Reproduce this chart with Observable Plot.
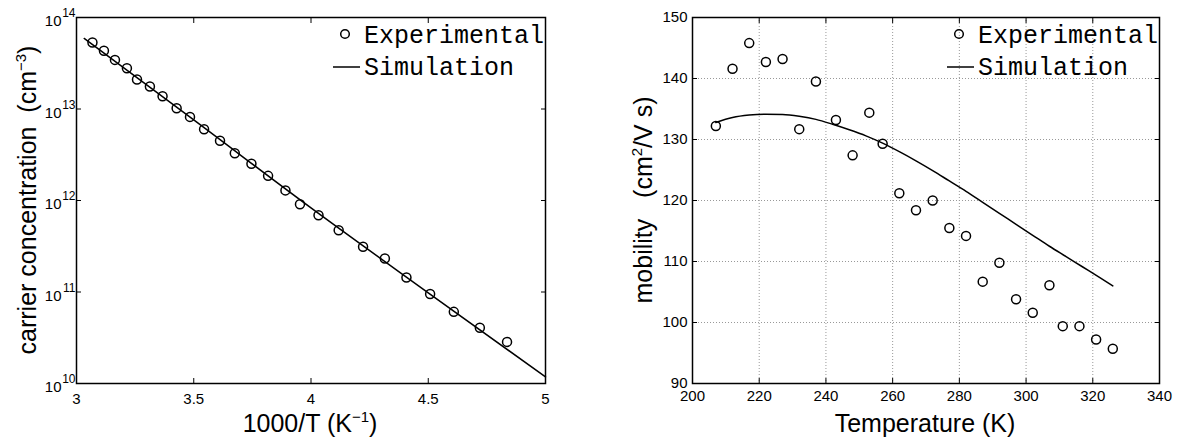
<!DOCTYPE html>
<html>
<head>
<meta charset="utf-8">
<script src="https://cdn.jsdelivr.net/npm/d3@7"></script>
<script src="https://cdn.jsdelivr.net/npm/@observablehq/plot@0.6"></script>
<style>
  html, body { margin: 0; padding: 0; background: #fff; }
  #fig { position: relative; width: 1180px; height: 439px; overflow: hidden; background: #fff; }
  #fig > div, #fig > svg { position: absolute; top: 0; }
</style>
</head>
<body>
<div id="fig"></div>
<script>
// ---------- Left panel data: carrier concentration vs 1000/T ----------
const invT = [3.068, 3.117, 3.164, 3.215, 3.258, 3.313, 3.367, 3.427, 3.484, 3.544,
              3.612, 3.675, 3.746, 3.817, 3.891, 3.953, 4.032, 4.118, 4.222, 4.315,
              4.407, 4.508, 4.609, 4.720, 4.836];
const carrierExp = [5.33e13, 4.33e13, 3.44e13, 2.79e13, 2.10e13, 1.76e13, 1.38e13, 1.02e13, 8.2e12, 6.0e12,
                    4.49e12, 3.29e12, 2.52e12, 1.86e12, 1.29e12, 9.1e11, 6.9e11, 4.74e11, 3.12e11, 2.32e11,
                    1.44e11, 9.5e10, 6.07e10, 4.06e10, 2.85e10];
const invTSim = [3.033, 3.5, 4.0, 4.5, 5.0];
const carrierSim = [5.9e13, 7.6e12, 8.3e11, 9.8e10, 1.18e10];

// ---------- Right panel data: mobility vs temperature ----------
const temp = [207, 212, 217, 222, 227, 232, 237, 243, 248, 253, 257, 262, 267, 272, 277,
              282, 287, 292, 297, 302, 307, 311, 316, 321, 326];
const mobilityExp = [132.2, 141.6, 145.8, 142.7, 143.2, 131.7, 139.5, 133.2, 127.4, 134.4, 129.3,
                     121.2, 118.4, 120.0, 115.5, 114.2, 106.7, 109.8, 103.8, 101.6, 106.1,
                     99.4, 99.4, 97.2, 95.7];
const tempSim = [207, 212, 217, 222, 227, 232, 237, 242, 247, 252, 257, 262, 267, 272, 277,
                 282, 287, 292, 297, 302, 307, 312, 317, 322, 326];
const mobilitySim = [132.8, 133.6, 134.0, 134.15, 134.1, 133.8, 133.3, 132.5, 131.6, 130.6, 129.4,
                     128.0, 126.5, 124.9, 123.2, 121.5, 119.7, 117.9, 116.1, 114.3, 112.5,
                     110.8, 109.1, 107.4, 106.0];

// ---------- Tick labels ----------
const leftXTicks = [3, 3.5, 4, 4.5, 5];
const leftYTicks = [1e10, 1e11, 1e12, 1e13, 1e14];
const rightXTicks = [200, 220, 240, 260, 280, 300, 320, 340];
const rightYTicks = [90, 100, 110, 120, 130, 140, 150];
const legendLabels = ["Experimental", "Simulation"];

const SANS = "'Liberation Sans', Arial, Helvetica, sans-serif";
const MONO = "'Liberation Mono', 'Courier New', Courier, monospace";

function legendMark(labels) {
  return (index, scales, values, dims) => {
    const g = d3.create("svg:g");
    const right = dims.width - dims.marginRight;
    const top = dims.marginTop;
    g.append("circle").attr("cx", right - 200).attr("cy", top + 17).attr("r", 4.3)
      .attr("fill", "none").attr("stroke", "black").attr("stroke-width", 1.5);
    g.append("line").attr("x1", right - 212).attr("x2", right - 185)
      .attr("y1", top + 50).attr("y2", top + 50).attr("stroke", "black").attr("stroke-width", 1.5);
    g.append("text").attr("x", right - 181).attr("y", top + 26).text(labels[0])
      .attr("text-anchor", "start")
      .attr("font-family", MONO).attr("font-size", 25).attr("fill", "black");
    g.append("text").attr("x", right - 181).attr("y", top + 58).text(labels[1])
      .attr("text-anchor", "start")
      .attr("font-family", MONO).attr("font-size", 25).attr("fill", "black");
    return g.node();
  };
}

function boxTicks(xt, yt) {
  return [
    Plot.axisX({ticks: xt, anchor: "bottom", tickSize: -5, tickFormat: () => "", strokeWidth: 1}),
    Plot.axisX({ticks: xt, anchor: "top", tickSize: -5, tickFormat: () => "", strokeWidth: 1}),
    Plot.axisY({ticks: yt, anchor: "left", tickSize: -5, tickFormat: () => "", strokeWidth: 1}),
    Plot.axisY({ticks: yt, anchor: "right", tickSize: -5, tickFormat: () => "", strokeWidth: 1})
  ];
}

// Add a text label (with superscript) to an svg
function addLabel(svg, parts, x, y, rotate) {
  const t = d3.select(svg).append("text")
    .attr("font-family", SANS).attr("font-size", 25).attr("fill", "black")
    .attr("text-anchor", "middle")
    .attr("transform", `translate(${x},${y})` + (rotate ? " rotate(-90)" : ""));
  for (const p of parts) {
    const ts = t.append("tspan").text(p.t).attr("xml:space", "preserve").style("white-space", "pre");
    if (p.sup) ts.attr("font-size", 15).attr("dy", -10);
    else if (p.after) ts.attr("dy", 10);
  }
}

// ---------- Left panel ----------
const left = Plot.plot({
  width: 590, height: 439,
  marginLeft: 76, marginRight: 45, marginTop: 17, marginBottom: 56,
  style: {fontFamily: SANS, background: "white", color: "black", overflow: "visible"},
  x: {domain: [3, 5], label: null},
  y: {type: "log", domain: [1e10, 1e14], label: null},
  marks: [
    Plot.line(invTSim, {x: (d, i) => invTSim[i], y: (d, i) => carrierSim[i], stroke: "black", strokeWidth: 1.5, curve: "monotone-x"}),
    Plot.dot(invT, {x: (d, i) => invT[i], y: (d, i) => carrierExp[i], r: 4.5, stroke: "black", strokeWidth: 1.5, fill: "none"}),
    ...boxTicks(leftXTicks, leftYTicks),
    Plot.axisX({ticks: leftXTicks, tickSize: 0, tickPadding: 10, fontSize: 15, tickFormat: d => String(d)}),
    Plot.axisY({ticks: leftYTicks, tickSize: 0, tickPadding: 15, fontSize: 15, dy: 4, tickFormat: () => "10"}),
    Plot.axisY({ticks: leftYTicks, tickSize: 0, tickPadding: 1, fontSize: 12, dy: -4, tickFormat: d => String(Math.round(Math.log10(d)))}),
    Plot.frame({stroke: "black", strokeWidth: 1.5}),
    legendMark(legendLabels)
  ]
});
left.style.left = "0px";
addLabel(left, [{t: "1000/T (K"}, {t: "−1", sup: true}, {t: ")", after: true}], 310, 432, false);
addLabel(left, [{t: "carrier concentration  (cm"}, {t: "−3", sup: true}, {t: ")", after: true}], 36, 200, true);

// ---------- Right panel ----------
const right = Plot.plot({
  width: 590, height: 439,
  marginLeft: 102, marginRight: 21, marginTop: 17, marginBottom: 56,
  style: {fontFamily: SANS, background: "white", color: "black", overflow: "visible"},
  x: {domain: [200, 340], label: null},
  y: {domain: [90, 150], label: null},
  marks: [
    Plot.gridX({ticks: rightXTicks.slice(1, -1), stroke: "#999", strokeOpacity: 1, strokeDasharray: "1,2", strokeWidth: 1}),
    Plot.gridY({ticks: rightYTicks.slice(1, -1), stroke: "#999", strokeOpacity: 1, strokeDasharray: "1,2", strokeWidth: 1}),
    Plot.line(tempSim, {x: (d, i) => tempSim[i], y: (d, i) => mobilitySim[i], stroke: "black", strokeWidth: 1.5, curve: "monotone-x"}),
    Plot.dot(temp, {x: (d, i) => temp[i], y: (d, i) => mobilityExp[i], r: 4.5, stroke: "black", strokeWidth: 1.5, fill: "none"}),
    ...boxTicks(rightXTicks, rightYTicks),
    Plot.axisX({ticks: rightXTicks, tickSize: 0, tickPadding: 7, fontSize: 15, tickFormat: d => String(d)}),
    Plot.axisY({ticks: rightYTicks, tickSize: 0, tickPadding: 5, fontSize: 15, tickFormat: d => String(d)}),
    Plot.frame({stroke: "black", strokeWidth: 1.5}),
    legendMark(legendLabels)
  ]
});
right.style.left = "590px";
addLabel(right, [{t: "Temperature (K)"}], 335, 432, false);
addLabel(right, [{t: "mobility   (cm"}, {t: "2", sup: true}, {t: "/V s)", after: true}], 62, 200, true);

document.getElementById("fig").append(left, right);
</script>
</body>
</html>
